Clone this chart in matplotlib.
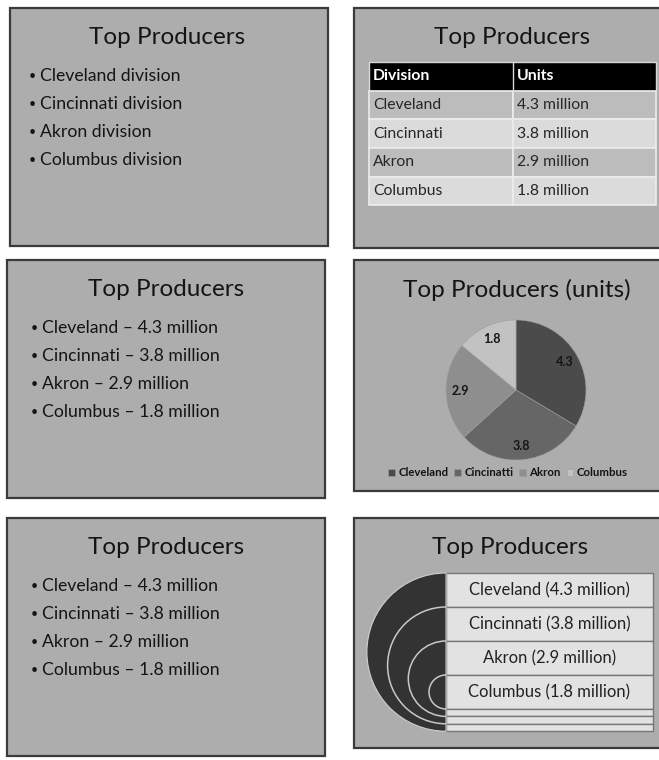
import matplotlib
matplotlib.use('Agg')
from matplotlib import pyplot as plt
from matplotlib.patches import Rectangle, Wedge, Arc

plt.rcParams['font.family'] = ['Lato', 'DejaVu Sans']

divisions = ['Cleveland', 'Cincinnati', 'Akron', 'Columbus']
units = [4.3, 3.8, 2.9, 1.8]
legend_names = ['Cleveland', 'Cincinatti', 'Akron', 'Columbus']
pie_colors = ['#4b4b4b', '#666666', '#8e8e8e', '#c2c2c2']
title = 'Top Producers'

W, H = 659, 760
fig = plt.figure(figsize=(W / 100, H / 100), dpi=100)
fig.patch.set_facecolor('white')
canvas = fig.add_axes([0, 0, 1, 1])
canvas.set_xlim(0, W)
canvas.set_ylim(H, 0)
canvas.axis('off')

slide_fill = '#adadad'
ink = '#141414'
title_size = 17.5


def slide(x0, y0, x1, y1):
    canvas.add_patch(Rectangle((x0 + 1, y0 + 1), x1 - x0, y1 - y0, facecolor='#8a8a8a',
                               edgecolor='none', zorder=0))
    canvas.add_patch(Rectangle((x0, y0), x1 - x0, y1 - y0, facecolor=slide_fill,
                               edgecolor='#3a3a3a', lw=1.6, zorder=1))


def bullets(lines, x_dot, x_txt, y_first, step=28):
    for i, s in enumerate(lines):
        y = y_first + i * step
        canvas.text(x_dot, y, '•', fontsize=9, color=ink, ha='center', va='center', zorder=3)
        canvas.text(x_txt, y, s, fontsize=12.7, color=ink, ha='left', va='center', zorder=3)


# slide 1 - plain list
slide(10, 8, 328, 246)
canvas.text(167, 37, title, fontsize=title_size, color=ink, ha='center', va='center', zorder=3)
bullets([f'{d} division' for d, in zip(divisions)], 32, 40, 76)

# slide 3 and 5 - list with numbers
for y0, y1, ty, ly in [(260, 498, 289, 328), (518, 756, 547, 586)]:
    slide(7, y0, 325, y1)
    canvas.text(166, ty, title, fontsize=title_size, color=ink, ha='center', va='center',
                zorder=3)
    bullets([f'{d} \u2013 {u} million' for d, u in zip(divisions, units)], 34, 42, ly)

# slide 2 - table
slide(354, 8, 720, 248)
canvas.text(512, 37, title, fontsize=title_size, color=ink, ha='center', va='center', zorder=3)
tx0, tx1, tx2 = 369, 513, 656
ty0, row_h = 62, 28.7
headers = ['Division', 'Units']
rows = [[d, f'{u} million'] for d, u in zip(divisions, units)]
canvas.add_patch(Rectangle((tx0, ty0), tx2 - tx0, row_h, facecolor='black',
                           edgecolor='#d8d8d8', lw=1, zorder=2))
for cx, h in zip([tx0, tx1], headers):
    canvas.text(cx + 4, ty0 + row_h / 2, h, fontsize=11.3, fontweight='bold', color='white',
                va='center', zorder=3)
for i, r in enumerate(rows):
    y = ty0 + row_h * (i + 1)
    fc = '#bcbcbc' if i % 2 == 0 else '#dbdbdb'
    for cx0, cx1, val in [(tx0, tx1, r[0]), (tx1, tx2, r[1])]:
        canvas.add_patch(Rectangle((cx0, y), cx1 - cx0, row_h, facecolor=fc,
                                   edgecolor='#ececec', lw=1.2, zorder=2))
        canvas.text(cx0 + 4, y + row_h / 2, val, fontsize=11.3, color='#262626',
                    va='center', zorder=3)
canvas.plot([tx1, tx1], [ty0, ty0 + row_h], color='#d8d8d8', lw=1, zorder=3)

# slide 4 - pie
slide(354, 260, 720, 491)
canvas.text(517, 290, title + ' (units)', fontsize=title_size, color=ink, ha='center',
            va='center', zorder=3)
pcx, pcy, pr = 516, 390, 70
pie_ax = fig.add_axes([(pcx - pr) / W, (H - pcy - pr) / H, 2 * pr / W, 2 * pr / H])
pie_ax.set_facecolor('none')
total = sum(units)
wedges, _, autotexts = pie_ax.pie(units, colors=pie_colors, startangle=90, counterclock=False,
                                  autopct=lambda p: f'{p * total / 100:.1f}', pctdistance=0.8,
                                  wedgeprops=dict(edgecolor='#9e9e9e', lw=0.4),
                                  textprops=dict(fontsize=9, fontweight='bold', color=ink))
pie_ax.set_xlim(-1, 1)
pie_ax.set_ylim(-1, 1)
leg = pie_ax.legend(wedges, legend_names, loc='center', ncol=4, frameon=False,
                    bbox_to_anchor=(508 / W, 1 - 473 / H), bbox_transform=fig.transFigure,
                    handlelength=0.6, handleheight=0.6, handletextpad=0.3, columnspacing=0.5,
                    prop=dict(size=8.2, weight='bold'))
for t in leg.get_texts():
    t.set_color(ink)

# slide 6 - stacked boxes with nested arcs
slide(354, 518, 720, 748)
canvas.text(510, 548, title, fontsize=title_size, color=ink, ha='center', va='center', zorder=3)
bx0, bx1 = 446, 653
box_top, box_h = 573, 34
thin_h = 7.4
n = len(divisions)
thin_top = box_top + n * box_h
for i, (d, u) in enumerate(zip(divisions, units)):
    y = box_top + i * box_h
    canvas.add_patch(Rectangle((bx0, y), bx1 - bx0, box_h, facecolor='#e2e2e2',
                               edgecolor='#777777', lw=1, zorder=2))
    canvas.text((bx0 + bx1) / 2, y + box_h / 2, f'{d} ({u} million)', fontsize=12,
                color='#222222', ha='center', va='center', zorder=3)
for j in range(n - 1):
    canvas.add_patch(Rectangle((bx0, thin_top + j * thin_h), bx1 - bx0, thin_h,
                               facecolor='#e2e2e2', edgecolor='#777777', lw=1, zorder=2))
bottom = thin_top + (n - 1) * thin_h
for i in range(n):
    top = box_top + i * box_h
    bot = bottom - i * thin_h
    cy, rad = (top + bot) / 2, (bot - top) / 2
    if i == 0:
        canvas.add_patch(Wedge((bx0, cy), rad, 90, 270, facecolor='#333333',
                               edgecolor='#cfcfcf', lw=0.8, zorder=2))
    else:
        canvas.add_patch(Arc((bx0, cy), 2 * rad, 2 * rad, theta1=90, theta2=270,
                             color='#c8c8c8', lw=1.1, zorder=3))

fig.savefig('out.png', dpi=100, facecolor='white')
